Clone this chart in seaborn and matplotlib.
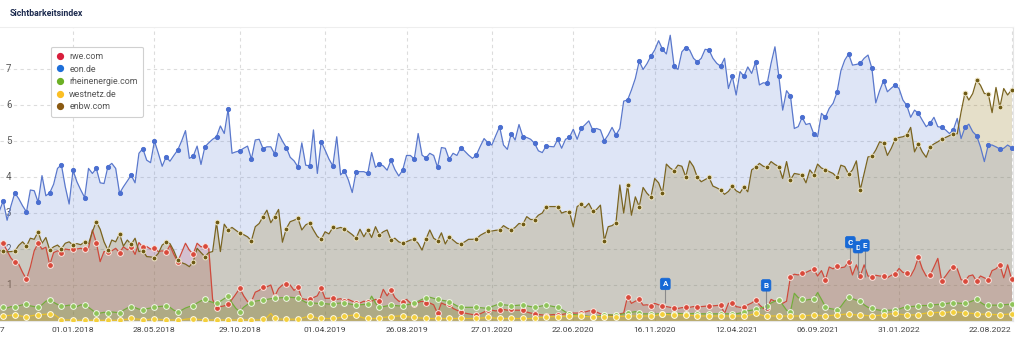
import numpy as np
import pandas as pd
import matplotlib
matplotlib.use("Agg")
import matplotlib.pyplot as plt
import matplotlib.transforms as mtransforms
from matplotlib.lines import Line2D
import seaborn as sns

sns.set_theme(style="white")
plt.rcParams["font.family"] = ["Roboto", "DejaVu Sans"]

# ---------------- data (weekly Sichtbarkeitsindex) ----------------
dates = pd.date_range("2017-08-21", periods=262, freq="7D")
series_names = ["rwe.com", "eon.de", "rheinenergie.com", "westnetz.de", "enbw.com"]

rwe = [2.16,
 2.16, 1.95, 1.75, 1.63, 1.58, 1.35, 1.16, 1.50, 1.95, 2.16,
 2.00, 2.05, 1.56, 1.90, 1.95, 1.90, 2.00, 1.98, 1.99, 2.00,
 2.02, 1.99, 2.02, 2.53, 2.18, 1.65, 1.93, 1.91, 1.95, 2.02,
 1.90, 2.06, 1.98, 2.05, 1.85, 2.18, 2.05, 2.07, 2.00, 2.02,
 1.93, 1.95, 1.91, 2.10, 1.85, 1.65, 1.90, 2.16, 1.97, 1.86,
 2.16, 2.06, 2.08, 2.02, 0.60, 0.35, 0.40, 0.42, 0.47, 0.60,
 0.75, 0.91, 0.70, 0.54, 0.54, 0.80, 0.85, 0.94, 0.95, 1.00,
 0.68, 0.90, 1.00, 1.03, 1.00, 0.85, 0.94, 0.62, 0.60, 0.60,
 0.65, 0.70, 0.91, 0.63, 0.63, 0.65, 0.60, 0.62, 0.55, 0.60,
 0.55, 0.51, 0.50, 0.55, 0.52, 0.55, 0.60, 0.56, 0.88, 0.70,
 0.86, 0.65, 0.55, 0.54, 0.60, 0.50, 0.47, 0.52, 0.55, 0.51,
 0.50, 0.45, 0.21, 0.50, 0.45, 0.47, 0.35, 0.30, 0.25, 0.22,
 0.20, 0.18, 0.17, 0.20, 0.25, 0.30, 0.30, 0.28, 0.30, 0.32,
 0.30, 0.32, 0.30, 0.30, 0.30, 0.25, 0.22, 0.20, 0.18, 0.17,
 0.15, 0.17, 0.18, 0.16, 0.18, 0.20, 0.20, 0.22, 0.22, 0.23,
 0.25, 0.28, 0.29, 0.25, 0.20, 0.18, 0.17, 0.16, 0.16, 0.20,
 0.22, 0.68, 0.49, 0.55, 0.60, 0.44, 0.45, 0.42, 0.49, 0.45,
 0.42, 0.40, 0.38, 0.35, 0.35, 0.37, 0.38, 0.38, 0.40, 0.40,
 0.40, 0.41, 0.42, 0.42, 0.43, 0.44, 0.21, 0.49, 0.51, 0.40,
 0.38, 0.38, 0.45, 0.50, 0.58, 0.45, 0.35, 0.35, 0.60, 0.55,
 0.58, 0.49, 0.55, 1.23, 1.30, 1.28, 1.32, 1.35, 1.40, 1.44,
 1.25, 1.40, 1.14, 1.50, 1.45, 1.53, 1.48, 1.50, 1.65, 1.28,
 1.56, 1.25, 1.56, 1.25, 1.23, 1.27, 1.25, 1.25, 1.20, 1.27,
 1.31, 1.46, 1.35, 1.34, 1.25, 1.45, 1.77, 1.45, 1.25, 1.27,
 1.50, 1.74, 1.12, 1.25, 1.40, 1.51, 1.45, 1.15, 1.11, 1.25,
 1.28, 1.11, 1.25, 1.20, 1.14, 1.40, 1.45, 1.56, 1.20, 1.56, 1.17]

eon = [3.05,
 3.34, 2.80, 3.20, 3.56, 3.40, 3.20, 3.03, 3.64, 3.62, 3.30,
 4.04, 3.48, 3.56, 3.80, 4.24, 4.34, 3.73, 3.25, 4.19, 3.87,
 3.64, 3.43, 4.24, 4.10, 4.24, 3.84, 3.82, 4.29, 4.38, 4.24,
 3.55, 3.73, 3.89, 4.05, 3.84, 4.66, 4.79, 4.47, 4.40, 5.00,
 4.66, 4.30, 4.56, 4.44, 4.60, 4.75, 5.00, 5.29, 4.52, 4.58,
 4.86, 4.35, 4.84, 4.95, 5.05, 5.12, 5.42, 5.21, 5.89, 4.66,
 4.70, 4.73, 4.80, 4.86, 4.50, 5.03, 5.05, 4.79, 4.84, 4.84,
 4.64, 5.21, 5.00, 4.82, 4.55, 4.45, 4.28, 4.95, 4.33, 4.31,
 5.31, 4.10, 4.98, 4.75, 4.50, 4.31, 5.12, 4.06, 4.17, 3.92,
 3.57, 4.15, 4.15, 4.15, 4.10, 4.68, 4.27, 4.36, 4.31, 4.19,
 4.47, 4.21, 4.03, 4.19, 4.60, 4.60, 4.50, 5.21, 4.61, 4.53,
 4.66, 4.60, 4.27, 4.82, 4.80, 4.49, 4.66, 4.60, 4.82, 4.72,
 4.61, 4.52, 4.61, 4.85, 5.07, 4.95, 4.89, 5.15, 5.40, 4.89,
 4.77, 5.21, 5.03, 5.46, 5.12, 5.10, 5.05, 4.94, 4.73, 4.68,
 4.86, 4.85, 4.84, 5.05, 4.80, 5.05, 5.10, 5.33, 5.05, 5.35,
 5.45, 5.56, 5.31, 5.35, 5.31, 5.01, 5.17, 5.38, 5.17, 5.35,
 6.11, 6.14, 6.42, 6.74, 7.22, 6.99, 7.15, 7.36, 7.53, 7.79,
 7.55, 7.42, 7.94, 7.08, 6.99, 7.48, 7.60, 7.53, 7.30, 7.20,
 7.30, 7.55, 7.53, 7.30, 7.16, 7.08, 7.30, 6.46, 6.80, 6.28,
 6.93, 6.80, 7.06, 6.88, 7.19, 6.56, 6.62, 6.60, 7.16, 7.62,
 6.81, 5.86, 6.40, 6.25, 5.35, 5.40, 5.66, 5.46, 5.49, 5.20,
 5.12, 5.77, 5.66, 5.91, 6.05, 6.35, 6.95, 7.25, 7.42, 7.11,
 7.13, 7.16, 7.30, 7.39, 7.02, 6.06, 6.40, 6.68, 6.37, 6.47,
 6.56, 6.46, 6.14, 5.99, 5.66, 5.86, 5.77, 5.58, 5.40, 5.49,
 5.66, 5.40, 5.38, 5.31, 5.21, 5.31, 5.63, 5.07, 5.38, 5.47,
 5.26, 5.15, 4.84, 4.43, 4.89, 4.89, 4.84, 4.78, 4.80, 4.89, 4.82]

rheinenergie = [0.36,
 0.38, 0.36, 0.40, 0.38, 0.42, 0.45, 0.47, 0.42, 0.40, 0.38,
 0.45, 0.55, 0.58, 0.52, 0.46, 0.42, 0.42, 0.44, 0.42, 0.40,
 0.45, 0.44, 0.38, 0.30, 0.21, 0.22, 0.24, 0.23, 0.25, 0.24,
 0.23, 0.30, 0.36, 0.40, 0.37, 0.33, 0.31, 0.34, 0.36, 0.38,
 0.40, 0.41, 0.42, 0.38, 0.30, 0.26, 0.30, 0.36, 0.40, 0.42,
 0.50, 0.56, 0.60, 0.55, 0.52, 0.49, 0.55, 0.62, 0.69, 0.50,
 0.35, 0.26, 0.38, 0.46, 0.51, 0.55, 0.57, 0.58, 0.60, 0.62,
 0.63, 0.64, 0.65, 0.65, 0.66, 0.65, 0.65, 0.58, 0.52, 0.49,
 0.50, 0.49, 0.49, 0.48, 0.47, 0.47, 0.49, 0.50, 0.51, 0.48,
 0.46, 0.44, 0.45, 0.46, 0.47, 0.69, 0.50, 0.38, 0.40, 0.42,
 0.44, 0.43, 0.42, 0.42, 0.45, 0.47, 0.49, 0.55, 0.60, 0.65,
 0.66, 0.63, 0.60, 0.58, 0.56, 0.54, 0.48, 0.42, 0.38, 0.38,
 0.38, 0.38, 0.38, 0.37, 0.36, 0.35, 0.40, 0.44, 0.47, 0.45,
 0.44, 0.42, 0.43, 0.44, 0.44, 0.42, 0.40, 0.38, 0.40, 0.42,
 0.44, 0.42, 0.40, 0.38, 0.32, 0.25, 0.20, 0.18, 0.17, 0.17,
 0.15, 0.13, 0.12, 0.13, 0.15, 0.16, 0.17, 0.17, 0.17, 0.18,
 0.20, 0.21, 0.24, 0.26, 0.22, 0.20, 0.20, 0.20, 0.19, 0.20,
 0.20, 0.20, 0.20, 0.20, 0.21, 0.20, 0.20, 0.20, 0.21, 0.20,
 0.20, 0.20, 0.20, 0.20, 0.20, 0.20, 0.20, 0.20, 0.19, 0.20,
 0.22, 0.25, 0.28, 0.30, 0.32, 0.35, 0.38, 0.42, 0.50, 0.55,
 0.58, 0.45, 0.30, 0.26, 0.77, 0.65, 0.60, 0.58, 0.60, 0.60,
 0.79, 0.60, 0.40, 0.35, 0.33, 0.31, 0.40, 0.55, 0.66, 0.62,
 0.58, 0.56, 0.45, 0.38, 0.35, 0.32, 0.30, 0.29, 0.30, 0.30,
 0.30, 0.33, 0.37, 0.40, 0.40, 0.41, 0.42, 0.43, 0.43, 0.44,
 0.45, 0.46, 0.47, 0.48, 0.50, 0.51, 0.50, 0.49, 0.49, 0.52,
 0.56, 0.60, 0.52, 0.45, 0.44, 0.44, 0.44, 0.44, 0.45, 0.46, 0.47]

westnetz = [0.14,
 0.14, 0.15, 0.16, 0.17, 0.15, 0.13, 0.12, 0.14, 0.16, 0.17,
 0.18, 0.19, 0.19, 0.19, 0.12, 0.03, 0.03, 0.03, 0.02, 0.02,
 0.02, 0.02, 0.02, 0.02, 0.02, 0.02, 0.02, 0.02, 0.02, 0.02,
 0.03, 0.04, 0.05, 0.07, 0.06, 0.05, 0.04, 0.04, 0.05, 0.06,
 0.05, 0.04, 0.03, 0.03, 0.03, 0.02, 0.03, 0.05, 0.06, 0.06,
 0.05, 0.04, 0.03, 0.03, 0.03, 0.03, 0.03, 0.03, 0.03, 0.03,
 0.03, 0.03, 0.03, 0.03, 0.03, 0.03, 0.03, 0.05, 0.10, 0.21,
 0.08, 0.06, 0.05, 0.05, 0.05, 0.05, 0.05, 0.08, 0.11, 0.14,
 0.12, 0.08, 0.07, 0.07, 0.07, 0.07, 0.08, 0.10, 0.13, 0.15,
 0.16, 0.17, 0.12, 0.08, 0.07, 0.07, 0.07, 0.08, 0.10, 0.11,
 0.12, 0.13, 0.14, 0.14, 0.12, 0.11, 0.10, 0.09, 0.08, 0.07,
 0.07, 0.07, 0.07, 0.07, 0.07, 0.07, 0.07, 0.07, 0.07, 0.07,
 0.07, 0.07, 0.07, 0.08, 0.09, 0.10, 0.09, 0.08, 0.07, 0.07,
 0.07, 0.07, 0.07, 0.07, 0.07, 0.07, 0.07, 0.08, 0.09, 0.10,
 0.11, 0.12, 0.12, 0.12, 0.13, 0.13, 0.14, 0.14, 0.14, 0.14,
 0.13, 0.12, 0.12, 0.12, 0.12, 0.12, 0.12, 0.12, 0.12, 0.13,
 0.13, 0.14, 0.14, 0.14, 0.14, 0.14, 0.14, 0.14, 0.15, 0.17,
 0.19, 0.18, 0.17, 0.17, 0.17, 0.17, 0.17, 0.16, 0.15, 0.14,
 0.14, 0.14, 0.14, 0.14, 0.14, 0.14, 0.14, 0.14, 0.14, 0.14,
 0.14, 0.14, 0.15, 0.18, 0.21, 0.18, 0.15, 0.14, 0.14, 0.14,
 0.14, 0.14, 0.14, 0.14, 0.14, 0.14, 0.14, 0.15, 0.16, 0.17,
 0.16, 0.15, 0.14, 0.15, 0.16, 0.17, 0.18, 0.19, 0.19, 0.18,
 0.17, 0.17, 0.16, 0.15, 0.14, 0.15, 0.16, 0.17, 0.18, 0.20,
 0.21, 0.19, 0.18, 0.17, 0.17, 0.17, 0.17, 0.20, 0.22, 0.23,
 0.23, 0.24, 0.23, 0.24, 0.25, 0.26, 0.25, 0.24, 0.23, 0.22,
 0.21, 0.20, 0.19, 0.19, 0.19, 0.18, 0.18, 0.17, 0.18, 0.19, 0.19]

enbw = [1.95,
 1.95, 1.92, 1.93, 1.94, 2.10, 2.20, 2.08, 2.30, 2.27, 2.48,
 2.16, 2.32, 1.97, 2.06, 2.11, 2.01, 2.16, 2.20, 2.11, 2.15,
 2.12, 2.20, 2.15, 2.48, 2.76, 2.55, 2.20, 1.97, 2.25, 2.20,
 2.42, 2.08, 2.25, 2.13, 2.30, 1.93, 1.95, 1.79, 1.78, 1.76,
 1.88, 2.11, 2.19, 2.15, 1.95, 1.69, 1.62, 1.58, 1.51, 1.65,
 2.02, 1.90, 1.79, 1.90, 1.93, 2.74, 1.93, 2.69, 2.53, 2.60,
 2.52, 2.44, 2.40, 2.34, 2.23, 2.62, 2.71, 2.90, 3.08, 2.73,
 2.90, 3.10, 2.19, 2.57, 2.76, 2.80, 2.85, 2.53, 2.67, 2.73,
 2.53, 2.35, 2.27, 2.48, 2.42, 2.60, 2.57, 2.60, 2.56, 2.48,
 2.40, 2.30, 2.55, 2.34, 2.53, 2.32, 2.62, 2.39, 2.48, 2.53,
 2.25, 2.30, 2.20, 2.16, 2.20, 2.25, 2.27, 2.16, 1.97, 2.27,
 2.53, 2.30, 2.23, 2.45, 2.14, 2.34, 2.25, 2.16, 2.14, 2.20,
 2.27, 2.27, 2.28, 2.38, 2.44, 2.49, 2.50, 2.52, 2.53, 2.65,
 2.58, 2.53, 2.60, 2.71, 2.69, 2.90, 2.82, 2.82, 2.94, 3.00,
 3.18, 3.18, 3.18, 3.18, 3.00, 3.04, 3.04, 2.62, 3.18, 3.25,
 3.15, 3.27, 3.06, 3.10, 3.22, 2.23, 2.62, 2.65, 2.73, 3.78,
 3.00, 3.78, 2.94, 3.45, 3.18, 3.71, 3.55, 3.44, 3.96, 3.84,
 3.55, 4.36, 4.25, 4.18, 4.33, 4.30, 4.01, 4.45, 4.29, 3.99,
 3.87, 3.93, 3.99, 3.75, 3.70, 3.64, 3.52, 3.60, 3.75, 3.62,
 3.56, 3.73, 3.59, 4.20, 4.27, 4.38, 4.30, 4.27, 4.43, 4.35,
 4.29, 3.96, 4.43, 3.92, 4.10, 4.08, 4.06, 3.84, 4.20, 4.06,
 4.36, 4.25, 4.21, 4.15, 4.10, 3.99, 4.33, 4.29, 4.08, 4.20,
 4.45, 3.64, 4.10, 4.56, 4.58, 4.75, 4.98, 4.94, 4.60, 4.80,
 5.05, 5.10, 5.12, 5.17, 5.38, 4.70, 4.92, 4.70, 4.55, 4.84,
 4.92, 4.98, 5.05, 5.10, 5.15, 5.21, 5.20, 5.81, 6.34, 6.14,
 6.32, 6.69, 6.55, 6.32, 6.32, 5.79, 6.49, 5.94, 6.46, 6.28, 6.42]

tick_dates = ["2018-01-01", "2018-05-28", "2018-10-29", "2019-04-01", "2019-08-26",
              "2020-01-27", "2020-06-22", "2020-11-16", "2021-04-12", "2021-09-06",
              "2022-01-31", "2022-08-22"]
y_labels = [1, 2, 3, 4, 5, 6, 7]

flag_letters = ["A", "B", "C", "D", "E"]
flag_dates = ["2020-12-05", "2021-06-05", "2021-11-04", "2021-11-18", "2021-11-30"]
flag_tops = [1.03, 0.99, 2.19, 2.05, 2.10]
flag_bases = [0.49, 0.30, 1.64, 1.23, 1.23]

# ---------------- styling ----------------
line_colors = {"rwe.com": "#cf4a3c", "eon.de": "#5a78cc", "rheinenergie.com": "#74ad3c",
               "westnetz.de": "#e9c22e", "enbw.com": "#7a6420"}
fill_colors = {"rwe.com": "#c8463c", "eon.de": "#5b7fd6", "rheinenergie.com": "#6aaa30",
               "westnetz.de": "#f0c020", "enbw.com": "#8c6e0a"}
fill_alpha = {"rwe.com": 0.24, "eon.de": 0.20, "rheinenergie.com": 0.25,
              "westnetz.de": 0.25, "enbw.com": 0.22}
marker_face = {"rwe.com": "#d9493b", "eon.de": "#4b6fd0", "rheinenergie.com": "#8fc45a",
               "westnetz.de": "#f3cf3c", "enbw.com": "#6e5a14"}
marker_edge = {"rwe.com": "#fbe6e0", "eon.de": "#4b6fd0", "rheinenergie.com": "#f2f7e8",
               "westnetz.de": "#fffbe8", "enbw.com": "#efe6c8"}
marker_size = {"rwe.com": 17, "eon.de": 9, "rheinenergie.com": 17,
               "westnetz.de": 17, "enbw.com": 12}
legend_colors = ["#d81e3c", "#1e6fd9", "#6cb025", "#fbbf24", "#8a5a12"]

values = [rwe, eon, rheinenergie, westnetz, enbw]
for n, v in zip(series_names, values):
    assert len(v) == len(dates), (n, len(v))

week_no = np.arange(len(dates)) - 1
marker_weeks = list(range(0, 46, 3)) + list(range(49, 119, 3)) + list(range(122, 261, 3))
marked = np.isin(week_no, marker_weeks)

df = pd.concat([pd.DataFrame({"date": dates, "site": n, "value": v, "marked": marked})
                for n, v in zip(series_names, values)], ignore_index=True)

W, H = 1016, 341
fig = plt.figure(figsize=(W / 100, H / 100), dpi=100)
ax = fig.add_axes([0, 1 - 321 / H, 1013 / W, (321 - 27) / H])

for n in series_names:
    sub = df[df.site == n]
    ax.fill_between(sub["date"], 0, sub["value"], color=fill_colors[n],
                    alpha=fill_alpha[n], lw=0, zorder=1)

sns.lineplot(data=df, x="date", y="value", hue="site", hue_order=series_names,
             palette=line_colors, linewidth=0.9, legend=False, ax=ax,
             estimator=None, sort=False, zorder=3)

for n in series_names:
    sub = df[(df.site == n) & df.marked]
    sns.scatterplot(data=sub, x="date", y="value", color=marker_face[n],
                    s=marker_size[n], edgecolor=marker_edge[n], linewidth=0.7,
                    legend=False, ax=ax, zorder=4)

# axes
ax.set_xlim(pd.Timestamp("2017-08-28") - pd.Timedelta(days=5.8),
            pd.Timestamp("2022-08-22") + pd.Timedelta(days=2.7))
ax.set_ylim(0, 8.17)
ax.set_xlabel("")
ax.set_ylabel("")
ticks = pd.to_datetime(tick_dates)
ax.set_xticks(ticks)
ax.set_xticklabels([t.strftime("%d.%m.%Y") for t in ticks], fontsize=6.1, color="#444444")
ax.get_xticklabels()[-1].set_ha("right")
ax.tick_params(axis="x", length=0, pad=4)
ax.set_yticks(y_labels)
ax.set_yticklabels([])
ax.tick_params(axis="y", length=0)
ax.grid(True, color="#dcdcdc", linestyle=(0, (3, 3)), linewidth=0.8)
ax.set_axisbelow(True)
ax.spines["left"].set_visible(False)
ax.spines["top"].set_color("#eeeeee")
ax.spines["right"].set_color("#e6e6e6")
ax.spines["bottom"].set_color("#e6e6e6")
for s in ["top", "right", "bottom"]:
    ax.spines[s].set_linewidth(0.8)

trans = mtransforms.blended_transform_factory(ax.transAxes, ax.transData)
for v in y_labels:
    ax.text(6 / 1013, v, str(v), transform=trans, ha="left", va="center",
            fontsize=7, color="#5a5a5a", zorder=0.6)

# first x label (cut by the left edge, as in the reference) and title
fig.text(5 / W, 1 - 330 / H, "07.08.2017", ha="right", va="center",
         fontsize=6.1, color="#444444")
fig.text(10 / W, 1 - 14 / H, "Sichtbarkeitsindex", ha="left", va="center",
         fontsize=6.3, fontweight="bold", color="#1d2b4f")

# event flags
for letter, d, top, base in zip(flag_letters, flag_dates, flag_tops, flag_bases):
    t = pd.Timestamp(d)
    ax.vlines(t, base, top - 0.12, color="#8a8a8a", lw=0.8, zorder=5)
    ax.text(t, top, letter, ha="center", va="center", color="white", fontsize=5.8,
            fontweight="bold", zorder=6,
            bbox=dict(boxstyle="round,pad=0.28,rounding_size=0.25", fc="#1769d6",
                      ec="#1769d6", lw=0.5))

# legend
handles = [Line2D([0], [0], marker="o", color="none", markerfacecolor=c,
                  markeredgecolor=c, markersize=4.2) for c in legend_colors]
leg = ax.legend(handles, series_names, loc="upper left",
                bbox_to_anchor=(51 / W, 1 - 46.7 / H), bbox_transform=fig.transFigure,
                fontsize=6.4, frameon=True, fancybox=True, borderpad=0.6,
                labelspacing=0.4, handlelength=0.9, handletextpad=0.56,
                borderaxespad=0, framealpha=1, edgecolor="#d0d0d0")
leg.get_frame().set_linewidth(0.8)
leg.set_zorder(10)
for txt in leg.get_texts():
    txt.set_color("#555555")

fig.savefig("out.png", dpi=100)
